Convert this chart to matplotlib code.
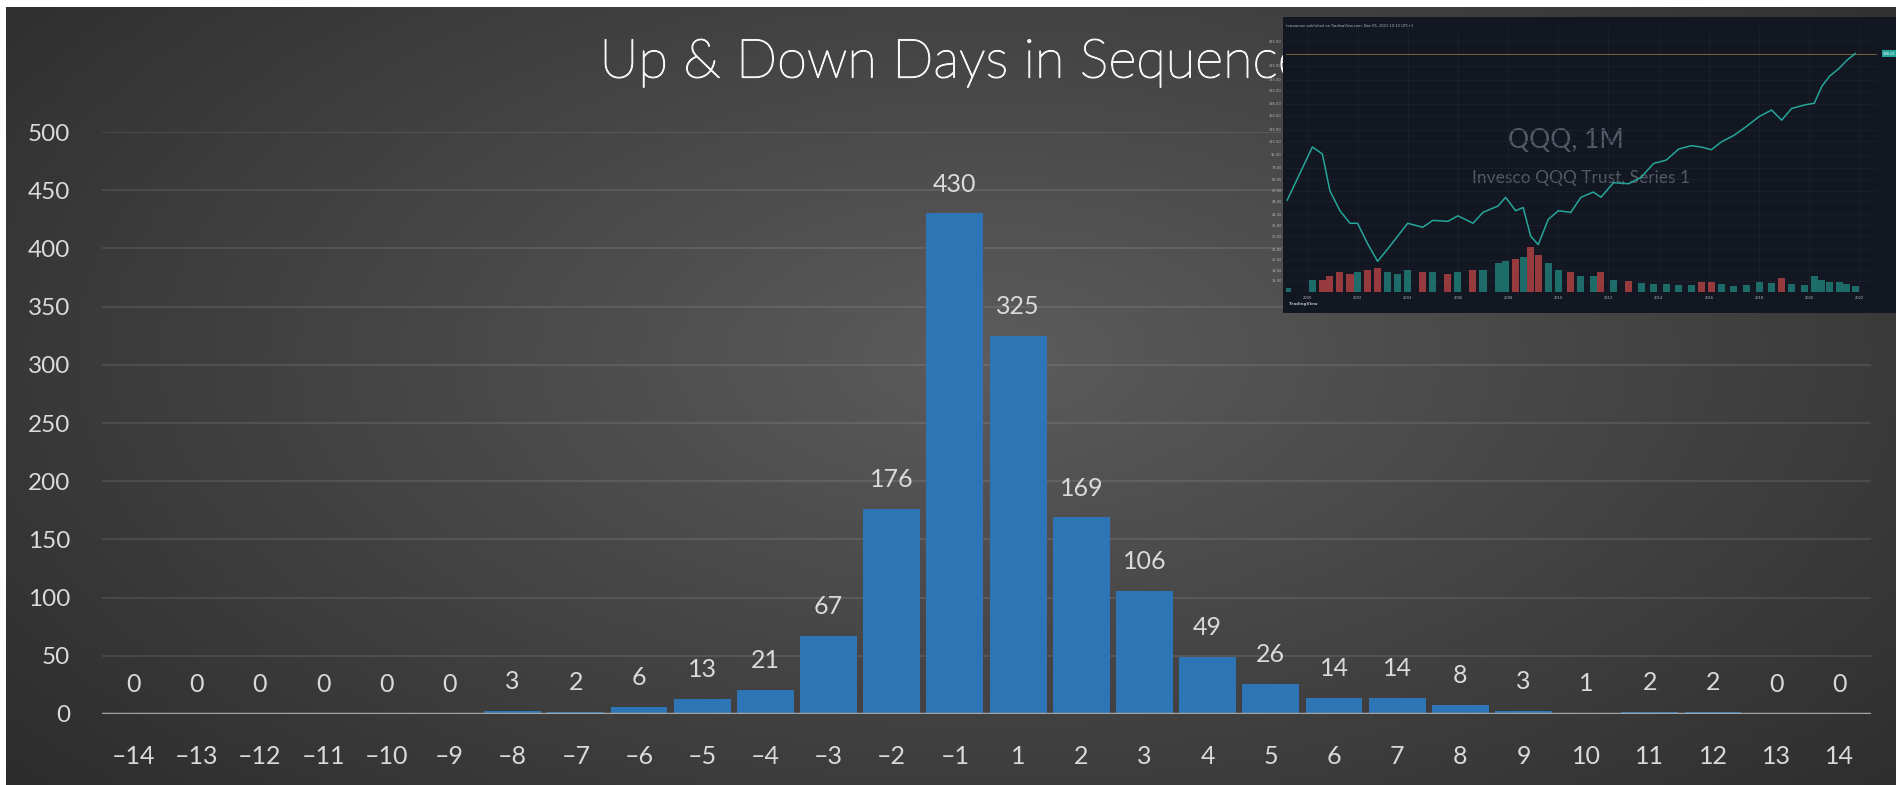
import numpy as np
import matplotlib
matplotlib.use("Agg")
import matplotlib.pyplot as plt
import matplotlib.patheffects as pe

# ============================================================
# Data
# ============================================================
run_lengths = [-14, -13, -12, -11, -10, -9, -8, -7, -6, -5, -4, -3, -2, -1,
               1, 2, 3, 4, 5, 6, 7, 8, 9, 10, 11, 12, 13, 14]
day_counts = [0, 0, 0, 0, 0, 0, 3, 2, 6, 13, 21, 67, 176, 430,
              325, 169, 106, 49, 26, 14, 14, 8, 3, 1, 2, 2, 0, 0]
y_ticks = [0, 50, 100, 150, 200, 250, 300, 350, 400, 450, 500]

# inset: rough QQQ monthly price path / volume
qqq_year = [1999.2, 2000.2, 2000.6, 2000.9, 2001.3, 2001.7, 2002.0, 2002.4, 2002.8,
            2003.2, 2003.6, 2004.0, 2004.6, 2005.0, 2005.6, 2006.0, 2006.6, 2007.0,
            2007.6, 2007.9, 2008.3, 2008.6, 2008.9, 2009.2, 2009.6, 2010.0, 2010.5,
            2010.9, 2011.4, 2011.7, 2012.2, 2012.8, 2013.3, 2013.8, 2014.3, 2014.8,
            2015.3, 2015.7, 2016.1, 2016.5, 2017.0, 2017.5, 2018.0, 2018.5, 2018.9,
            2019.3, 2019.8, 2020.2, 2020.5, 2020.8, 2021.2, 2021.5, 2021.83]
qqq_price = [50, 106, 96, 57, 43, 36, 36, 27, 21,
             25, 30, 36, 34, 37.5, 37, 40, 36, 42,
             46, 52, 43, 45, 30, 26.6, 38, 43, 42,
             52, 56, 52, 64, 63, 69, 84, 88, 103,
             108, 106, 102, 114, 125, 142, 163, 179, 155,
             183, 192, 197, 250, 288, 324, 362, 398]
qqq_volume = [10, 30, 30, 40, 50, 45, 50, 55, 60,
              50, 45, 55, 50, 50, 45, 50, 55, 55,
              70, 75, 80, 85, 110, 90, 70, 55, 50,
              40, 40, 50, 30, 28, 22, 20, 20, 18,
              18, 25, 25, 20, 15, 18, 25, 22, 35,
              20, 18, 40, 30, 25, 25, 20, 15]
qqq_scale = [15.90, 18.50, 21.50, 25.00, 30.00, 35.00, 41.00, 49.00, 57.00, 67.00,
             79.00, 95.00, 115.00, 135.00, 165.00, 195.00, 235.00, 275.00, 335.00, 475.00]
qqq_years = [2000, 2002, 2004, 2006, 2008, 2010, 2012, 2014, 2016, 2018, 2020, 2022]

# ============================================================
# Figure + background
# ============================================================
W, H = 1896, 785
fig = plt.figure(figsize=(W / 100, H / 100), dpi=100, facecolor="white")

FONT = ["Lato", "DejaVu Sans"]
TXT = "#dadada"

bg = fig.add_axes([6 / W, 0, 1 - 6 / W, 1 - 7 / H], zorder=-2)
gx, gy = np.meshgrid(np.linspace(0, 1, 400), np.linspace(0, 1, 170))
dist = np.sqrt(((gx - 0.52) / 0.8) ** 2 + ((gy - 0.45) / 1.0) ** 2)
shade = np.clip(0.36 - 0.22 * dist, 0.15, 0.36)
bg.imshow(np.dstack([shade] * 3), aspect="auto", extent=[0, 1, 0, 1], origin="upper")
bg.set_axis_off()

# ============================================================
# Main bar chart
# ============================================================
ax = fig.add_axes([102 / W, 1 - 714 / H, (1871 - 102) / W, (714 - 132) / H])
ax.set_facecolor("none")
x = np.arange(len(run_lengths))
ax.bar(x, day_counts, width=0.9, color="#2e75b6", zorder=3)
ax.set_xlim(-0.5, len(run_lengths) - 0.5)
ax.set_ylim(0, 500)

ax.set_yticks(y_ticks)
ax.set_yticklabels([str(t) for t in y_ticks])
ax.set_xticks(x)
ax.set_xticklabels([f"\u2013{abs(r)}" if r < 0 else str(r) for r in run_lengths])
ax.tick_params(length=0, colors=TXT)
ax.tick_params(axis="y", pad=23, labelsize=17.5)
ax.tick_params(axis="x", pad=22, labelsize=18)
for lab in ax.get_xticklabels() + ax.get_yticklabels():
    lab.set_family(FONT)

ax.grid(axis="y", color="white", alpha=0.1, linewidth=1.3, zorder=0)
ax.axhline(0, color="#a3a3a3", linewidth=2.5, zorder=4)
for s in ax.spines.values():
    s.set_visible(False)

for xi, v in zip(x, day_counts):
    ax.annotate(str(v), (xi, v), xytext=(0, 21), textcoords="offset points",
                ha="center", va="center", fontsize=18, color=TXT, family=FONT)

title = fig.text(952 / W, 1 - 63 / H, "Up & Down Days in Sequence", ha="center", va="center",
                 fontsize=39, color="#f5f5f5", family=FONT, fontweight="light")
title.set_path_effects([pe.withStroke(linewidth=0.9, foreground="#f5f5f5")])

# ============================================================
# Inset screenshot-like panel
# ============================================================
panel = fig.add_axes([1283 / W, 1 - 313 / H, (W - 1283) / W, (313 - 17) / H], zorder=5)
panel.set_facecolor("#131722")
panel.set_xticks([])
panel.set_yticks([])
for s in panel.spines.values():
    s.set_visible(False)
panel.text(0.005, 0.975, "tvwogmon published on TradingView.com, Nov 05, 2021 10:10 UTC+1",
           transform=panel.transAxes, fontsize=2.6, color="#b2b5be", va="top")
panel.text(0.005, 0.945, "Invesco QQQ Trust, Series 1, 1M, NASDAQ  O386.56 H399.33 L384.42 C398.22 +12.11 (+3.14%)",
           transform=panel.transAxes, fontsize=2.6, color="#b2b5be", va="top")
panel.text(0.005, 0.925, "Vol  129.915M", transform=panel.transAxes, fontsize=2.6,
           color="#26a69a", va="top")
panel.text(0.005, 0.905, "Vol  129.915M", transform=panel.transAxes, fontsize=2.6,
           color="#26a69a", va="top")
panel.text(0.01, 0.03, "TradingView", transform=panel.transAxes, fontsize=3,
           color="#b2b5be", va="center", fontweight="bold")

inner = fig.add_axes([1286 / W, 1 - 292 / H, (1877 - 1286) / W, (292 - 27) / H], zorder=6)
inner.set_facecolor("#131722")
inner.set_yscale("log")
inner.set_xlim(1999.15, 2022.7)
inner.set_ylim(13.6, 580)
inner.plot(qqq_year, qqq_price, color="#26a69a", linewidth=1.1, zorder=3)
inner.axhline(398.22, color="#8a6d3b", linewidth=0.6, zorder=2)
inner.set_yticks(qqq_scale)
inner.set_yticklabels([f"{v:.2f}" for v in qqq_scale])
inner.yaxis.tick_right()
inner.minorticks_off()
inner.set_xticks(qqq_years)
inner.set_xticklabels([str(y) for y in qqq_years])
inner.tick_params(length=0, labelsize=2.6, colors="#b2b5be", pad=3)
inner.grid(color="#1e2230", linewidth=0.5)
for s in inner.spines.values():
    s.set_visible(False)
inner.text(0.474, 0.57, "QQQ, 1M", transform=inner.transAxes, ha="center", va="center",
           fontsize=19, color="#565a66", family=FONT, zorder=1)
inner.text(0.50, 0.43, "Invesco QQQ Trust, Series 1", transform=inner.transAxes,
           ha="center", va="center", fontsize=12.5, color="#565a66", family=FONT, zorder=1)
inner.text(1.01, 398.22, "398.22", transform=inner.get_yaxis_transform(), fontsize=2.6,
           color="white", va="center", ha="left",
           bbox=dict(boxstyle="square,pad=0.3", fc="#26a69a", ec="none"))

vol = inner.twinx()
vol.set_ylim(0, 650)
vol_colors = ["#26a69a"] + ["#ef5350" if b < a else "#26a69a"
                            for a, b in zip(qqq_price[:-1], qqq_price[1:])]
vol.bar(qqq_year, qqq_volume, width=0.28, color=vol_colors, alpha=0.6, zorder=1)
vol.set_yticks([])
for s in vol.spines.values():
    s.set_visible(False)

fig.savefig("out.png", dpi=100, facecolor=fig.get_facecolor())
